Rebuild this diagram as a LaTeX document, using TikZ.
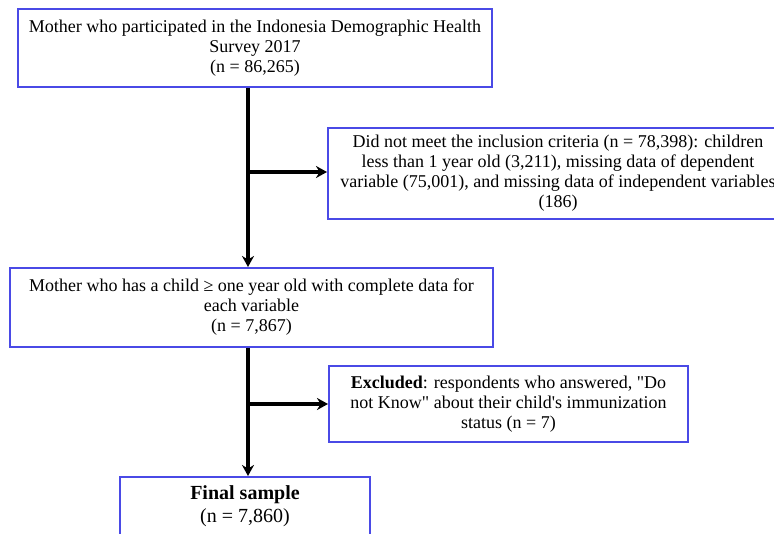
\documentclass[tikz,border=0pt]{standalone}
\usepackage{fontspec}
\setmainfont{Liberation Serif}[Ligatures=TeXOff]
\usetikzlibrary{arrows.meta,positioning}
\definecolor{boxblue}{HTML}{4A4AE6}

\begin{document}
\begin{tikzpicture}[x=1pt,y=1pt,
    box/.style={draw=boxblue, line width=2pt, align=center, inner sep=0pt, font=\fontsize{18}{20}\selectfont},
    flow/.style={line width=3.5pt, -{Stealth[length=11pt,width=12pt]}}]
\useasboundingbox (0,0) rectangle (774,533);
\clip (0,0) rectangle (774,533);

% Draw the boxes
\node[box, minimum width=474pt, minimum height=78pt] (survey) at (255,485)
    {Mother who participated in the Indonesia Demographic Health\\ Survey 2017\\ (n = 86,265)};
\node[box, minimum width=460pt, minimum height=91pt] (criteria) at (558,359.5)
    {Did not meet the inclusion criteria (n = 78,398): children\\ less than 1 year old (3,211), missing data of dependent\\ variable (75,001), and missing data of independent variables\\ (186)};
\node[box, minimum width=483pt, minimum height=79pt] (eligible) at (251.5,225.5)
    {Mother who has a child ≥ one year old with complete data for\\ each variable\\ (n = 7,867)};
\node[box, minimum width=359pt, minimum height=76pt] (dontknow) at (508.5,129)
    {\textbf{Excluded}: respondents who answered, "Do\\ not Know" about their child's immunization\\ status (n = 7)};
\node[box, font=\fontsize{20}{23}\selectfont, minimum width=250pt, minimum height=58pt] (final) at (245,27)
    {\textbf{Final sample}\\ (n = 7,860)};

% Trunk and branches
\coordinate (fork1) at (248,361);
\coordinate (fork2) at (248,129);
\draw[flow] (survey.south -| fork1) -- (eligible.north -| fork1);
\draw[flow] (fork1) -- (fork1 -| criteria.west);
\draw[flow] (eligible.south -| fork2) -- (final.north -| fork2);
\draw[flow] (fork2) -- (fork2 -| dontknow.west);
\end{tikzpicture}
\end{document}
